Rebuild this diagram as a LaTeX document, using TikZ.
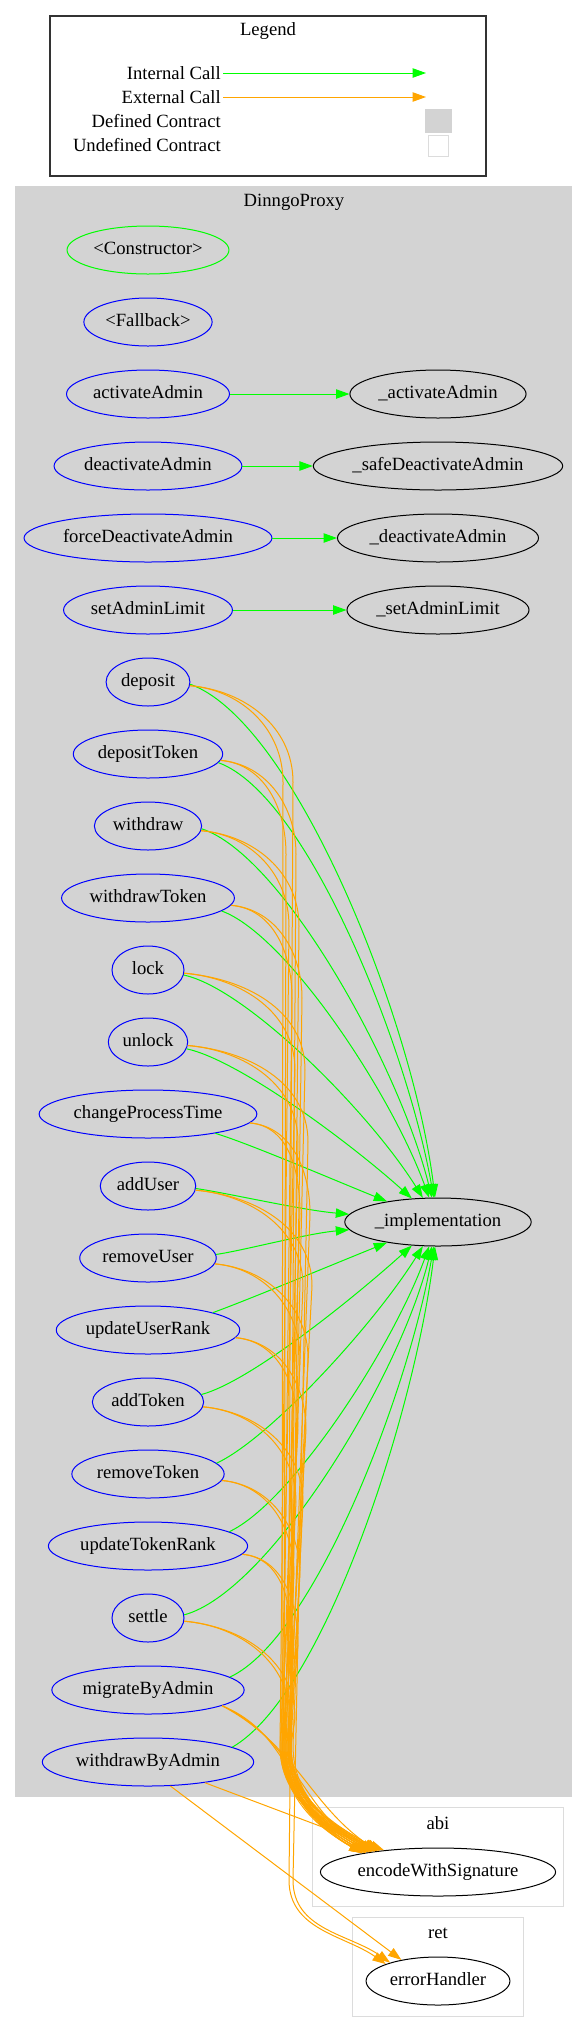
\documentclass[tikz,border=0pt]{standalone}
\usepackage{fontspec}
\setmainfont{Liberation Serif}
\usepackage{xcolor}
\definecolor{cgbgreen}{HTML}{00FF00}
\definecolor{cgborange}{HTML}{FFA500}
\definecolor{cgbblue}{HTML}{0000FF}
\definecolor{cgbgrey}{HTML}{D3D3D3}
\definecolor{cgbframe}{HTML}{DCDCDC}
\usetikzlibrary{positioning,shapes.geometric,arrows.meta}

\tikzset{
  fnnode/.style={ellipse, draw=black, line width=0.75pt, minimum width=54pt, minimum height=36pt,
                 inner xsep=2pt, inner ysep=0pt, text height=10pt, text depth=3pt,
                 font=\fontsize{14pt}{16pt}\selectfont},
  pubnode/.style={fnnode, draw=cgbblue},
  lbl/.style={font=\fontsize{14pt}{16pt}\selectfont, inner sep=1.5pt},
  intcall/.style={cgbgreen, line width=0.75pt, -{Triangle[length=10pt,width=7pt]}},
  extcall/.style={cgborange, line width=0.75pt, -{Triangle[length=10pt,width=7pt]}},
}

\begin{document}
\begin{tikzpicture}[x=0.75pt, y=0.75pt]
  \useasboundingbox (0,0) rectangle (586,-2032);
  % Legend
  \draw[black!80, line width=1pt] (50,-16) rectangle (486,-176);
  \node[lbl] (legendtitle) at (268,-31) {Legend};
  \node[lbl, anchor=east] (lgint) at (223,-73) {Internal Call};
  \node[lbl, anchor=east] (lgext) at (223,-97) {External Call};
  \node[lbl, anchor=east] (lgdef) at (223,-121) {Defined Contract};
  \node[lbl, anchor=east] (lgundef) at (223,-145) {Undefined Contract};
  \coordinate (lgintend) at (426,-73);
  \coordinate (lgextend) at (426,-97);
  \draw[intcall] (lgint.east) -- (lgintend);
  \draw[extcall] (lgext.east) -- (lgextend);
  \node[fill=cgbgrey, minimum width=20pt, minimum height=18pt, inner sep=0pt] (lgdefbox) at (438.5,-121) {};
  \node[draw=cgbframe, line width=0.75pt, minimum width=15pt, minimum height=16pt, inner sep=0pt] (lgundefbox) at (438.5,-146) {};

  % DinngoProxy cluster
  \fill[cgbgrey] (15,-186) rectangle (572,-1797);
  \node[lbl] (proxytitle) at (294,-202) {DinngoProxy};
  % abi and ret clusters
  \draw[cgbframe, line width=0.75pt] (312,-1807) rectangle (563,-1906);
  \node[lbl] (abititle) at (438,-1823) {abi};
  \draw[cgbframe, line width=0.75pt] (352,-1917) rectangle (523,-2016);
  \node[lbl] (rettitle) at (438,-1933) {ret};

  % public functions
  \node[fnnode, draw=cgbgreen] (ctor) at (148,-250) {<Constructor>};
  \node[pubnode] (fallback) at (148,-322) {<Fallback>};
  \foreach \fname [count=\k from 2] in {activateAdmin,deactivateAdmin,forceDeactivateAdmin,
      setAdminLimit,deposit,depositToken,withdraw,withdrawToken,lock,unlock,changeProcessTime,
      addUser,removeUser,updateUserRank,addToken,removeToken,updateTokenRank,settle,
      migrateByAdmin,withdrawByAdmin}
    \node[pubnode] (\fname) at (148,{-250-72*\k}) {\fname};

  % internal functions
  \node[fnnode] (uactivateAdmin) at (438,-394) {\_activateAdmin};
  \node[fnnode] (usafeDeactivateAdmin) at (438,-466) {\_safeDeactivateAdmin};
  \node[fnnode] (udeactivateAdmin) at (438,-538) {\_deactivateAdmin};
  \node[fnnode] (usetAdminLimit) at (438,-610) {\_setAdminLimit};
  \node[fnnode] (uimplementation) at (438,-1222) {\_implementation};
  \node[fnnode] (encodeWithSignature) at (438,-1872) {encodeWithSignature};
  \node[fnnode] (errorHandler) at (438,-1981) {errorHandler};

  % internal calls
  \draw[intcall] (activateAdmin) -- (uactivateAdmin);
  \draw[intcall] (deactivateAdmin) -- (usafeDeactivateAdmin);
  \draw[intcall] (forceDeactivateAdmin) -- (udeactivateAdmin);
  \draw[intcall] (setAdminLimit) -- (usetAdminLimit);
  \foreach \fname/\src/\out/\tgt in {deposit/-3/-20/97, depositToken/-7/-20/100,
      withdraw/-3/-18/104, withdrawToken/-10/-20/110, lock/-8/-12/122, unlock/-10/-12/138,
      changeProcessTime/-16/-17/158, addUser/-3/-8/175, removeUser/3/8/185,
      updateUserRank/15/20/202, addToken/8/15/222, removeToken/9/25/238,
      updateTokenRank/10/25/250, settle/5/15/256, migrateByAdmin/9/25/260,
      withdrawByAdmin/10/30/263}
    \draw[intcall] (\fname.\src) to[out=\out, in=\tgt, out looseness=0.5, in looseness=0.8]
      (uimplementation.\tgt);

  % external calls to abi.encodeWithSignature
  \foreach \fname/\k/\lt/\lb/\ta in {deposit/6/283/282/166, deposit/6/293/288/163,
      depositToken/7/286/284/164, depositToken/7/296/290/161,
      withdraw/8/289/280/162, withdrawToken/9/292/283/165, withdrawToken/9/302/291/160,
      lock/10/295/281/163, lock/10/305/289/166, unlock/11/298/285/166,
      changeProcessTime/12/300/282/164, changeProcessTime/12/310/290/161,
      addUser/13/303/284/162, addUser/13/312/288/165,
      removeUser/14/300/286/165, removeUser/14/308/293/162,
      updateUserRank/15/298/280/163, updateUserRank/15/306/287/160,
      addToken/16/296/283/161, addToken/16/303/291/164,
      removeToken/17/294/285/164, removeToken/17/300/289/162,
      updateTokenRank/18/292/282/162, updateTokenRank/18/298/288/165,
      settle/19/290/286/163, settle/19/295/291/161}
    \draw[extcall] (\fname.-5) to[out=-5, in=90] (\lt,{-350-72*\k}) -- (\lb,-1745)
      to[out=-90, in=150] (encodeWithSignature.\ta);
  \draw[extcall] (migrateByAdmin.-12) to[out=-25, in=150] (encodeWithSignature.163);
  \draw[extcall] (migrateByAdmin.-12) to[out=-28, in=145] (encodeWithSignature.161);
  \draw[extcall] (migrateByAdmin.-12) to[out=-22, in=155] (encodeWithSignature.165);
  \draw[extcall] (withdrawByAdmin.-20) -- (encodeWithSignature.158);
  % external calls to ret.errorHandler
  \draw[extcall] (withdraw.-5) to[out=-5, in=90] (299,{-350-72*8}) -- (289,-1880)
    to[out=-90, in=145] (errorHandler.162);
  \draw[extcall] (unlock.-5) to[out=-5, in=90] (308,{-350-72*11}) -- (293,-1880)
    to[out=-90, in=145] (errorHandler.159);
  \draw[extcall] (withdrawByAdmin.-47) -- (errorHandler.150);
\end{tikzpicture}
\end{document}
